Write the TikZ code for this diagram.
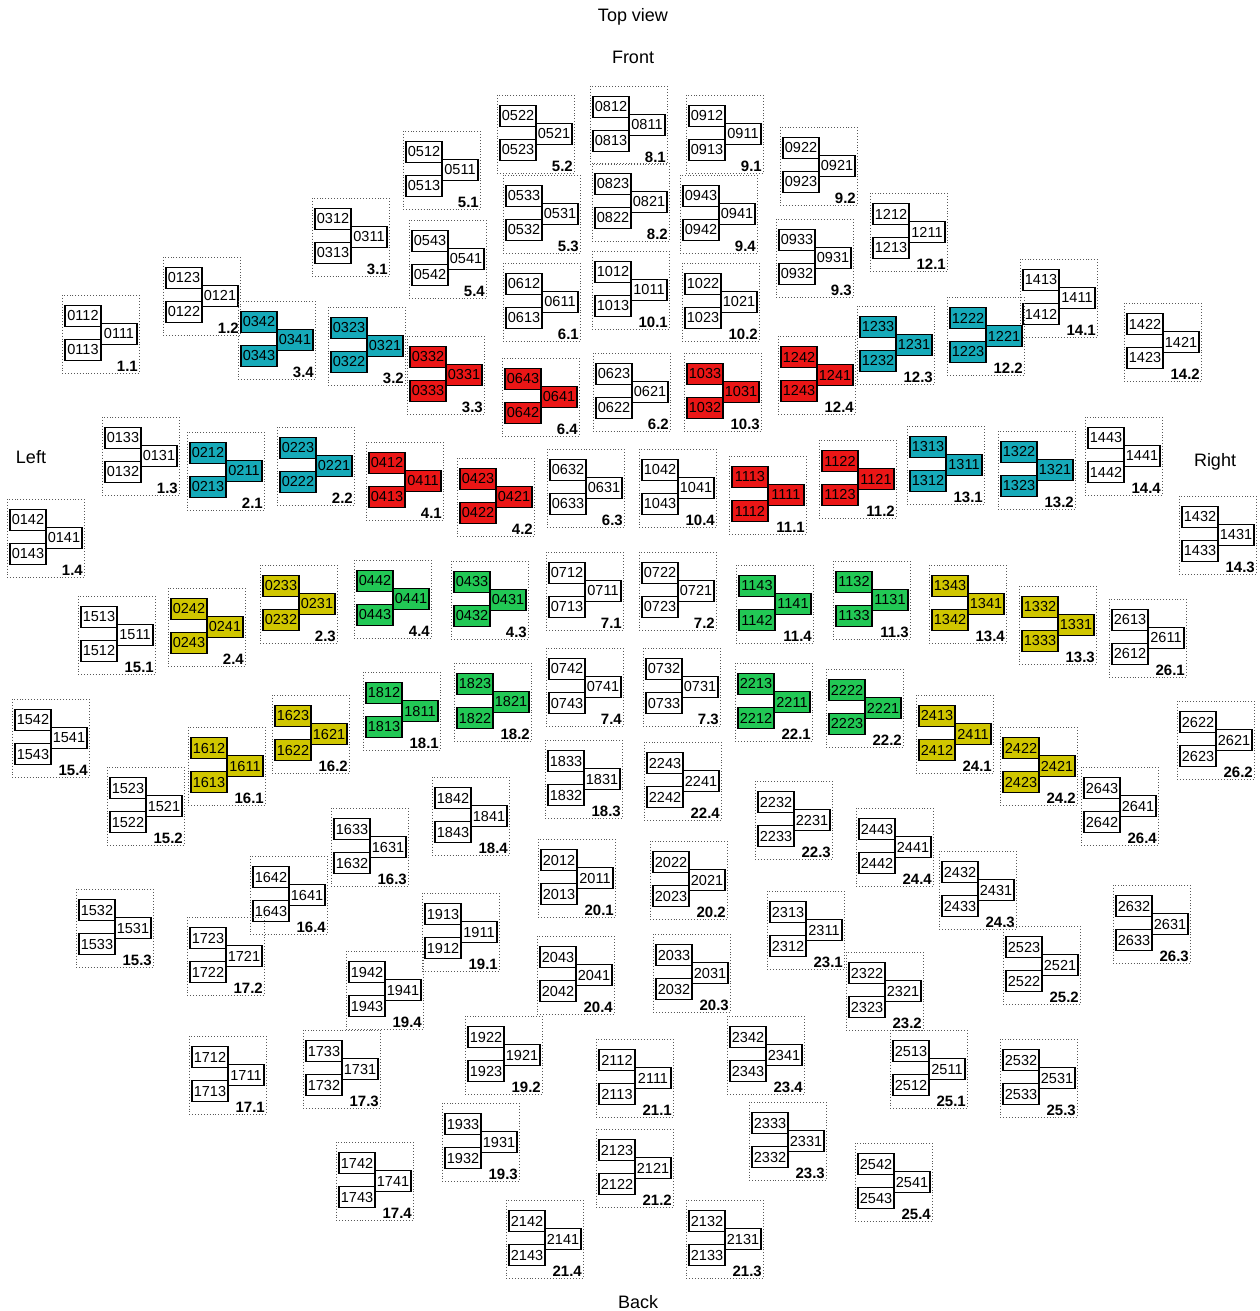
\documentclass[tikz,border=0pt]{standalone}
\usepackage{fontspec}
\setmainfont{Liberation Sans}
\definecolor{cy}{RGB}{22,170,185}
\definecolor{rd}{RGB}{235,22,22}
\definecolor{yl}{RGB}{208,198,0}
\definecolor{gr}{RGB}{34,200,85}
\tikzset{
  chan/.style={draw=black,line width=1.7pt,minimum width=36pt,minimum height=21pt,inner sep=0pt,font=\fontsize{14.5}{14.5}\selectfont},
  lab/.style={anchor=base east,inner sep=0pt,font=\bfseries\fontsize{15}{15}\selectfont},
  outl/.style={draw=black!65,dotted,line width=0.9pt},
  ttl/.style={inner sep=0pt,font=\fontsize{18}{18}\selectfont}
}
\newcommand{\sensor}[7]{%
  \draw[outl] (#1-21,#2-21) rectangle (#1+56,#2+57);
  \node[chan,fill=#7] (c#3#4) at (#1,#2) {#3#4};
  \node[chan,fill=#7] (c#31) at (#1+36,#2+18) {#31};
  \node[chan,fill=#7] (c#3#5) at (#1,#2+34) {#3#5};
  \node[lab] (l#3) at (#1+55,#2+55) {#6};
}
\begin{document}
\begin{tikzpicture}[x=1pt,y=-1pt]
\useasboundingbox (0,0) rectangle (1260,1311);
\fill[white] (0,0) rectangle (1260,1311);
\node[ttl] (top) at (633,17) {Top view};
\node[ttl] (front) at (633,57) {Front};
\node[ttl] (left) at (31,457) {Left};
\node[ttl] (right) at (1215,462) {Right};
\node[ttl] (back) at (638,1302) {Back};
\sensor{518}{116}{052}{2}{3}{5.2}{white}
\sensor{611}{107}{081}{2}{3}{8.1}{white}
\sensor{707}{116}{091}{2}{3}{9.1}{white}
\sensor{424}{152}{051}{2}{3}{5.1}{white}
\sensor{801}{148}{092}{2}{3}{9.2}{white}
\sensor{524}{196}{053}{3}{2}{5.3}{white}
\sensor{613}{184}{082}{3}{2}{8.2}{white}
\sensor{701}{196}{094}{3}{2}{9.4}{white}
\sensor{333}{219}{031}{2}{3}{3.1}{white}
\sensor{430}{241}{054}{3}{2}{5.4}{white}
\sensor{891}{214}{121}{2}{3}{12.1}{white}
\sensor{797}{240}{093}{3}{2}{9.3}{white}
\sensor{613}{272}{101}{2}{3}{10.1}{white}
\sensor{703}{284}{102}{2}{3}{10.2}{white}
\sensor{524}{284}{061}{2}{3}{6.1}{white}
\sensor{184}{278}{012}{3}{2}{1.2}{white}
\sensor{1041}{280}{141}{3}{2}{14.1}{white}
\sensor{83}{316}{011}{2}{3}{1.1}{white}
\sensor{259}{322}{034}{2}{3}{3.4}{cy}
\sensor{349}{328}{032}{3}{2}{3.2}{cy}
\sensor{428}{357}{033}{2}{3}{3.3}{rd}
\sensor{523}{379}{064}{3}{2}{6.4}{rd}
\sensor{614}{374}{062}{3}{2}{6.2}{white}
\sensor{705}{374}{103}{3}{2}{10.3}{rd}
\sensor{799}{357}{124}{2}{3}{12.4}{rd}
\sensor{878}{327}{123}{3}{2}{12.3}{cy}
\sensor{968}{318}{122}{2}{3}{12.2}{cy}
\sensor{1145}{324}{142}{2}{3}{14.2}{white}
\sensor{123}{438}{013}{3}{2}{1.3}{white}
\sensor{208}{453}{021}{2}{3}{2.1}{cy}
\sensor{298}{448}{022}{3}{2}{2.2}{cy}
\sensor{387}{463}{041}{2}{3}{4.1}{rd}
\sensor{478}{479}{042}{3}{2}{4.2}{rd}
\sensor{568}{470}{063}{2}{3}{6.3}{white}
\sensor{660}{470}{104}{2}{3}{10.4}{white}
\sensor{750}{477}{111}{3}{2}{11.1}{rd}
\sensor{840}{461}{112}{2}{3}{11.2}{rd}
\sensor{928}{447}{131}{3}{2}{13.1}{cy}
\sensor{1019}{452}{132}{2}{3}{13.2}{cy}
\sensor{1106}{438}{144}{3}{2}{14.4}{white}
\sensor{28}{520}{014}{2}{3}{1.4}{white}
\sensor{1200}{517}{143}{2}{3}{14.3}{white}
\sensor{189}{609}{024}{2}{3}{2.4}{yl}
\sensor{281}{586}{023}{3}{2}{2.3}{yl}
\sensor{375}{581}{044}{2}{3}{4.4}{gr}
\sensor{472}{582}{043}{3}{2}{4.3}{gr}
\sensor{567}{573}{071}{2}{3}{7.1}{white}
\sensor{660}{573}{072}{2}{3}{7.2}{white}
\sensor{757}{586}{114}{3}{2}{11.4}{gr}
\sensor{854}{582}{113}{2}{3}{11.3}{gr}
\sensor{950}{586}{134}{3}{2}{13.4}{yl}
\sensor{1040}{607}{133}{2}{3}{13.3}{yl}
\sensor{99}{617}{151}{3}{2}{15.1}{white}
\sensor{1130}{620}{261}{3}{2}{26.1}{white}
\sensor{33}{720}{154}{2}{3}{15.4}{white}
\sensor{384}{693}{181}{2}{3}{18.1}{gr}
\sensor{475}{684}{182}{3}{2}{18.2}{gr}
\sensor{567}{669}{074}{2}{3}{7.4}{white}
\sensor{664}{669}{073}{2}{3}{7.3}{white}
\sensor{756}{684}{221}{3}{2}{22.1}{gr}
\sensor{847}{690}{222}{2}{3}{22.2}{gr}
\sensor{293}{716}{162}{3}{2}{16.2}{yl}
\sensor{937}{716}{241}{3}{2}{24.1}{yl}
\sensor{209}{748}{161}{2}{3}{16.1}{yl}
\sensor{1021}{748}{242}{2}{3}{24.2}{yl}
\sensor{1198}{722}{262}{2}{3}{26.2}{white}
\sensor{566}{761}{183}{3}{2}{18.3}{white}
\sensor{665}{763}{224}{3}{2}{22.4}{white}
\sensor{128}{788}{152}{3}{2}{15.2}{white}
\sensor{776}{802}{223}{2}{3}{22.3}{white}
\sensor{1102}{788}{264}{3}{2}{26.4}{white}
\sensor{453}{798}{184}{2}{3}{18.4}{white}
\sensor{352}{829}{163}{3}{2}{16.3}{white}
\sensor{877}{829}{244}{3}{2}{24.4}{white}
\sensor{559}{860}{201}{2}{3}{20.1}{white}
\sensor{671}{862}{202}{2}{3}{20.2}{white}
\sensor{271}{877}{164}{2}{3}{16.4}{white}
\sensor{960}{872}{243}{2}{3}{24.3}{white}
\sensor{97}{910}{153}{2}{3}{15.3}{white}
\sensor{443}{914}{191}{3}{2}{19.1}{white}
\sensor{788}{912}{231}{3}{2}{23.1}{white}
\sensor{1134}{906}{263}{2}{3}{26.3}{white}
\sensor{208}{938}{172}{3}{2}{17.2}{white}
\sensor{1024}{947}{252}{3}{2}{25.2}{white}
\sensor{558}{957}{204}{3}{2}{20.4}{white}
\sensor{674}{955}{203}{3}{2}{20.3}{white}
\sensor{367}{972}{194}{2}{3}{19.4}{white}
\sensor{867}{973}{232}{2}{3}{23.2}{white}
\sensor{486}{1037}{192}{2}{3}{19.2}{white}
\sensor{748}{1037}{234}{2}{3}{23.4}{white}
\sensor{324}{1051}{173}{3}{2}{17.3}{white}
\sensor{911}{1051}{251}{3}{2}{25.1}{white}
\sensor{210}{1057}{171}{2}{3}{17.1}{white}
\sensor{1021}{1060}{253}{2}{3}{25.3}{white}
\sensor{617}{1060}{211}{2}{3}{21.1}{white}
\sensor{463}{1124}{193}{3}{2}{19.3}{white}
\sensor{770}{1123}{233}{3}{2}{23.3}{white}
\sensor{617}{1150}{212}{3}{2}{21.2}{white}
\sensor{357}{1163}{174}{2}{3}{17.4}{white}
\sensor{876}{1164}{254}{2}{3}{25.4}{white}
\sensor{527}{1221}{214}{2}{3}{21.4}{white}
\sensor{707}{1221}{213}{2}{3}{21.3}{white}
\end{tikzpicture}
\end{document}
